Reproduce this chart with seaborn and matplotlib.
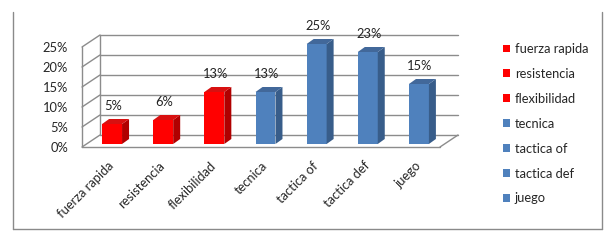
import matplotlib
matplotlib.use("Agg")
import matplotlib.pyplot as plt
import matplotlib.transforms as mtransforms
from matplotlib.patches import Patch, Polygon
from matplotlib.lines import Line2D
import seaborn as sns
import numpy as np

categories = ["fuerza rapida", "resistencia", "flexibilidad", "tecnica",
              "tactica of", "tactica def", "juego"]
values = [0.05, 0.06, 0.13, 0.13, 0.25, 0.23, 0.15]
value_labels = ["5%", "6%", "13%", "13%", "25%", "23%", "15%"]
ytick_values = [0.0, 0.05, 0.10, 0.15, 0.20, 0.25]
ytick_labels = ["0%", "5%", "10%", "15%", "20%", "25%"]
front_colors = ["#FF0000", "#FF0000", "#FF0000", "#4F81BD", "#4F81BD", "#4F81BD", "#4F81BD"]
side_colors = ["#B00000", "#B00000", "#B00000", "#385D8A", "#385D8A", "#385D8A", "#385D8A"]
top_colors = ["#D81010", "#D81010", "#D81010", "#42689A", "#42689A", "#42689A", "#42689A"]

sns.set_style("white")
plt.rcParams["font.family"] = ["Lato", "DejaVu Sans"]
FS = 9.3

W, H = 614, 242
fig = plt.figure(figsize=(W / 100, H / 100), dpi=100)
ax = fig.add_axes([82 / W, 95 / H, 358 / W, 100 / H])

sns.barplot(x=categories, y=values, hue=categories, palette=front_colors,
            width=0.39, legend=False, ax=ax, saturation=1)
ax.set_xlim(-0.5, 6.5)
ax.set_ylim(0, 0.25)

GRID = "#8C8C8C"
WALL_DX, WALL_DY = 18, 12      # depth of the back wall in pixels
BAR_DX, BAR_DY = 4.5, 3        # bar front face offset (middle depth)
SIDE_DX, SIDE_DY = 7, 5        # bar depth

def disp(x, y):
    return ax.transData.transform((x, y))

def to_data(px, py):
    return ax.transData.inverted().transform((px, py))

x0, x1 = ax.get_xlim()
# back wall gridlines and side-wall diagonals
for yv in ytick_values:
    a = disp(x0, yv)
    b = disp(x1, yv)
    p1 = to_data(a[0] + WALL_DX, a[1] + WALL_DY)
    p2 = to_data(b[0] + WALL_DX, b[1] + WALL_DY)
    ax.plot([p1[0], p2[0]], [p1[1], p2[1]], color=GRID, lw=1.0, clip_on=False, zorder=0)
    ax.plot([x0, p1[0]], [yv, p1[1]], color=GRID, lw=1.0, clip_on=False, zorder=0)
# back-left vertical and front-left vertical
a0 = disp(x0, 0); a1 = disp(x0, 0.25)
q0 = to_data(a0[0] + WALL_DX, a0[1] + WALL_DY)
q1 = to_data(a1[0] + WALL_DX, a1[1] + WALL_DY)
ax.plot([q0[0], q1[0]], [q0[1], q1[1]], color=GRID, lw=1.0, clip_on=False, zorder=0)
ax.plot([x0, x0], [0, 0.25], color=GRID, lw=1.0, clip_on=False, zorder=0)
# floor front edge and right diagonal
b0 = disp(x1, 0)
r0 = to_data(b0[0] + WALL_DX, b0[1] + WALL_DY)
ax.plot([x0, x1], [0, 0], color=GRID, lw=1.0, clip_on=False, zorder=0)
ax.plot([x1, r0[0]], [0, r0[1]], color=GRID, lw=1.0, clip_on=False, zorder=0)

# shift bars to middle depth and add 3D faces
shift = mtransforms.offset_copy(ax.transData, fig=fig, x=BAR_DX, y=BAR_DY, units="dots")
for i, p in enumerate(ax.patches):
    p.set_transform(shift)
    p.set_clip_on(False)
    p.set_edgecolor("none")
    p.set_zorder(3)
    bx, bw, bh = p.get_x(), p.get_width(), p.get_height()
    bl = disp(bx, 0); br = disp(bx + bw, 0); tl = disp(bx, bh); tr = disp(bx + bw, bh)
    o = np.array([BAR_DX, BAR_DY]); s = np.array([SIDE_DX, SIDE_DY])
    side = [br + o, br + o + s, tr + o + s, tr + o]
    top = [tl + o, tr + o, tr + o + s, tl + o + s]
    ax.add_patch(Polygon([to_data(*pt) for pt in side], closed=True, fc=side_colors[i],
                         ec="none", zorder=3, clip_on=False))
    ax.add_patch(Polygon([to_data(*pt) for pt in top], closed=True, fc=top_colors[i],
                         ec="none", zorder=3, clip_on=False))
    ax.annotate(value_labels[i], xy=(bx + bw / 2, bh), xytext=(BAR_DX + 1, BAR_DY + 12),
                textcoords="offset pixels", ha="center", va="bottom", fontsize=FS,
                color="#222222", annotation_clip=False)

for sp in ax.spines.values():
    sp.set_visible(False)
ax.set_yticks(ytick_values)
ax.set_yticklabels(ytick_labels, fontsize=FS)
ax.tick_params(axis="y", length=0, pad=10)
ax.set_xticks(range(len(categories)))
ax.set_xticklabels(categories, rotation=45, ha="right", va="top",
                   rotation_mode="anchor", fontsize=FS)
ax.tick_params(axis="x", length=0, pad=9)
ax.set_xlabel("")
ax.set_ylabel("")
ax.grid(False)
ax.patch.set_alpha(0)

handles = [Patch(facecolor=c, edgecolor="none") for c in front_colors]
fig.legend(handles, categories, loc="upper left", bbox_to_anchor=(503 / W, 1 - 43 / H),
           frameon=False, fontsize=FS, handlelength=0.55, handleheight=0.55,
           handletextpad=0.35, labelspacing=1.0, borderpad=0, borderaxespad=0)

# outer border
BORDER = "#8A8A8A"
fig.add_artist(Line2D([13 / W, 13 / W], [1 - 229 / H, 1 - 12 / H], color=BORDER, lw=1.0))
fig.add_artist(Line2D([13 / W, 602 / W], [1 - 229 / H, 1 - 229 / H], color=BORDER, lw=1.0))
fig.add_artist(Line2D([602 / W, 602 / W], [1 - 229 / H, 1 - 12 / H], color=BORDER, lw=1.0))

fig.savefig("out.png", dpi=100)
